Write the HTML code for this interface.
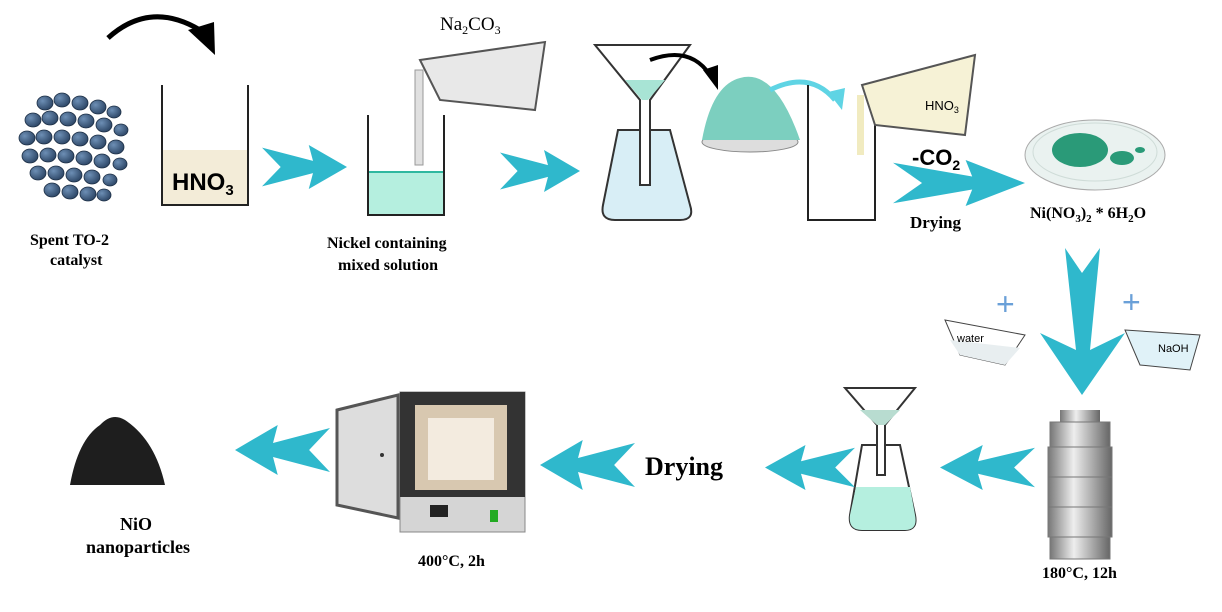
<!DOCTYPE html>
<html><head><meta charset="utf-8"><style>
html,body{margin:0;padding:0;background:#fff;}
svg{display:block;}
text{font-family:"Liberation Serif",serif;font-weight:bold;fill:#000;}
.s{font-family:"Liberation Sans",sans-serif;font-weight:normal;}
</style></head><body>
<svg width="1222" height="612" viewBox="0 0 1222 612" xmlns="http://www.w3.org/2000/svg">
<defs>
<symbol id="arr" viewBox="0 0 100 50" preserveAspectRatio="none">
<polygon points="0,3 60,18 55,0 100,25 55,50 60,32 0,47 22,25" fill="#2fb8cc"/>
</symbol>
<linearGradient id="steel" x1="0" x2="1"><stop offset="0" stop-color="#777"/><stop offset="0.4" stop-color="#eee"/><stop offset="1" stop-color="#666"/></linearGradient>
<radialGradient id="pel" cx="0.35" cy="0.35" r="0.7"><stop offset="0" stop-color="#6d8fb5"/><stop offset="1" stop-color="#2c4565"/></radialGradient>
</defs>

<!-- pellets -->
<g fill="url(#pel)" stroke="#1d2f45" stroke-width="0.8">
<ellipse cx="45" cy="103" rx="8" ry="7"/><ellipse cx="62" cy="100" rx="8" ry="7"/><ellipse cx="80" cy="103" rx="8" ry="7"/><ellipse cx="98" cy="107" rx="8" ry="7"/><ellipse cx="114" cy="112" rx="7" ry="6"/>
<ellipse cx="33" cy="120" rx="8" ry="7"/><ellipse cx="50" cy="118" rx="8" ry="7"/><ellipse cx="68" cy="119" rx="8" ry="7"/><ellipse cx="86" cy="121" rx="8" ry="7"/><ellipse cx="104" cy="125" rx="8" ry="7"/><ellipse cx="121" cy="130" rx="7" ry="6"/>
<ellipse cx="27" cy="138" rx="8" ry="7"/><ellipse cx="44" cy="137" rx="8" ry="7"/><ellipse cx="62" cy="137" rx="8" ry="7"/><ellipse cx="80" cy="139" rx="8" ry="7"/><ellipse cx="98" cy="142" rx="8" ry="7"/><ellipse cx="116" cy="147" rx="8" ry="7"/>
<ellipse cx="30" cy="156" rx="8" ry="7"/><ellipse cx="48" cy="155" rx="8" ry="7"/><ellipse cx="66" cy="156" rx="8" ry="7"/><ellipse cx="84" cy="158" rx="8" ry="7"/><ellipse cx="102" cy="161" rx="8" ry="7"/><ellipse cx="120" cy="164" rx="7" ry="6"/>
<ellipse cx="38" cy="173" rx="8" ry="7"/><ellipse cx="56" cy="173" rx="8" ry="7"/><ellipse cx="74" cy="175" rx="8" ry="7"/><ellipse cx="92" cy="177" rx="8" ry="7"/><ellipse cx="110" cy="180" rx="7" ry="6"/>
<ellipse cx="52" cy="190" rx="8" ry="7"/><ellipse cx="70" cy="192" rx="8" ry="7"/><ellipse cx="88" cy="194" rx="8" ry="7"/><ellipse cx="104" cy="195" rx="7" ry="6"/>
</g>
<!-- curved black arrow -->
<path d="M108,38 Q150,0 200,30" fill="none" stroke="#000" stroke-width="5"/>
<polygon points="188,30 215,55 214,22" fill="#000"/>

<!-- beaker HNO3 -->
<rect x="162" y="150" width="86" height="55" fill="#f3ecd8"/>
<path d="M162,85 V205 H248 V85" fill="none" stroke="#222" stroke-width="2"/>
<text x="172" y="190" class="s" font-size="24" style="font-weight:bold">HNO<tspan font-size="15" dy="5">3</tspan></text>
<text x="30" y="245" font-size="16">Spent TO-2</text>
<text x="50" y="265" font-size="16">catalyst</text>

<use href="#arr" x="262" y="145" width="85" height="44"/>

<!-- beaker 2 -->
<rect x="368" y="172" width="76" height="43" fill="#b5efdf"/>
<line x1="368" y1="172" x2="444" y2="172" stroke="#2fb8a0" stroke-width="2"/>
<path d="M368,115 V215 H444 V115" fill="none" stroke="#222" stroke-width="2"/>
<!-- pouring beaker -->
<path d="M420,60 L545,42 L535,110 L440,100 Z" fill="#e8e8e8" stroke="#555" stroke-width="2"/>
<rect x="415" y="70" width="8" height="95" fill="#e0e0e0" stroke="#999"/>
<text x="440" y="30" font-size="19" style="font-weight:normal">Na<tspan font-size="12" dy="4">2</tspan><tspan dy="-4">CO</tspan><tspan font-size="12" dy="4">3</tspan></text>
<text x="327" y="248" font-size="16">Nickel containing</text>
<text x="338" y="270" font-size="16">mixed solution</text>

<use href="#arr" x="500" y="150" width="80" height="42"/>

<!-- funnel flask -->
<path d="M618,130 L603,205 Q600,220 615,220 H680 Q695,220 690,205 L670,130 Z" fill="#d8eef6" stroke="#333" stroke-width="2"/>
<path d="M595,45 L690,45 L650,100 V185 H640 V100 Z" fill="#fff" stroke="#333" stroke-width="2"/>
<polygon points="625,80 665,80 648,100 642,100" fill="#a8e4d5"/>
<path d="M650,60 Q690,45 710,75" fill="none" stroke="#000" stroke-width="4"/>
<polygon points="703,70 718,90 718,65" fill="#000"/>
<!-- powder -->
<ellipse cx="750" cy="142" rx="48" ry="10" fill="#ddd" stroke="#888"/>
<path d="M702,140 Q712,85 740,78 Q775,68 800,140 Z" fill="#7ccfbf"/>
<path d="M770,90 Q810,70 835,100" fill="none" stroke="#5fd4e4" stroke-width="5"/>
<polygon points="828,92 842,110 845,88" fill="#5fd4e4"/>
<!-- beaker 3 -->
<path d="M808,85 V220 H875 V85" fill="none" stroke="#222" stroke-width="2"/>
<path d="M862,85 L975,55 L965,135 L875,125 Z" fill="#f6f2d6" stroke="#555" stroke-width="2"/>
<rect x="857" y="95" width="7" height="60" fill="#f1ebc0"/>
<text x="925" y="110" class="s" font-size="13">HNO<tspan font-size="9" dy="3">3</tspan></text>
<text x="912" y="165" font-size="22" class="s" style="font-weight:bold">-CO<tspan font-size="14" dy="5">2</tspan></text>
<use href="#arr" x="893" y="160" width="132" height="46"/>
<text x="910" y="228" font-size="17">Drying</text>
<!-- petri -->
<ellipse cx="1095" cy="155" rx="70" ry="35" fill="#eaf2f0" stroke="#aaa"/>
<ellipse cx="1095" cy="152" rx="62" ry="29" fill="none" stroke="#cfdcd8"/>
<ellipse cx="1080" cy="150" rx="28" ry="17" fill="#2a9a78"/>
<ellipse cx="1122" cy="158" rx="12" ry="7" fill="#2a9a78"/>
<ellipse cx="1140" cy="150" rx="5" ry="3" fill="#2a9a78"/>
<text x="1030" y="218" font-size="16">Ni(NO<tspan font-size="11" dy="4">3</tspan><tspan dy="-4">)</tspan><tspan font-size="11" dy="4">2</tspan><tspan dy="-4"> * 6H</tspan><tspan font-size="11" dy="4">2</tspan><tspan dy="-4">O</tspan></text>

<!-- down arrow -->
<polygon points="1065,248 1082,273 1100,248 1090,350 1125,333 1082,395 1040,333 1076,350" fill="#2fb8cc"/>
<!-- water/NaOH beakers -->
<path d="M945,320 L1025,335 L1005,365 L960,355 Z" fill="#fff" stroke="#444"/>
<path d="M950,340 L1020,348 L1005,365 L960,355 Z" fill="#e8eef0"/>
<text x="957" y="342" class="s" font-size="11">water</text>
<text x="996" y="315" class="s" font-size="32" style="fill:#6aa0d8">+</text>
<path d="M1125,330 L1200,335 L1190,370 L1140,365 Z" fill="#e0f2f8" stroke="#444"/>
<text x="1158" y="352" class="s" font-size="11">NaOH</text>
<text x="1122" y="313" class="s" font-size="32" style="fill:#6aa0d8">+</text>

<!-- autoclave -->
<rect x="1060" y="410" width="40" height="12" fill="url(#steel)"/>
<rect x="1050" y="422" width="60" height="25" fill="url(#steel)" stroke="#777"/>
<rect x="1048" y="447" width="64" height="30" fill="url(#steel)" stroke="#777"/>
<rect x="1048" y="477" width="64" height="30" fill="url(#steel)" stroke="#777"/>
<rect x="1048" y="507" width="64" height="30" fill="url(#steel)" stroke="#777"/>
<rect x="1050" y="537" width="60" height="22" fill="url(#steel)" stroke="#777"/>
<text x="1042" y="578" font-size="16">180°C, 12h</text>

<g transform="translate(1035,490) scale(-1,1)"><use href="#arr" x="0" y="-45" width="95" height="45"/></g>
<!-- flask 2 -->
<path d="M862,445 L850,515 Q848,530 862,530 H905 Q918,530 915,515 L900,445 Z" fill="#fff" stroke="#333" stroke-width="2"/>
<path d="M856,487 L910,487 L915,515 Q918,530 905,530 H862 Q848,530 850,515 Z" fill="#b5efdf"/>
<path d="M845,388 L915,388 L885,425 V475 H877 V425 Z" fill="#fff" stroke="#333" stroke-width="2"/>
<polygon points="860,410 900,410 885,425 877,425" fill="#b8dcd0"/>
<g transform="translate(855,490) scale(-1,1)"><use href="#arr" x="0" y="-45" width="90" height="45"/></g>
<text x="645" y="475" font-size="26">Drying</text>
<g transform="translate(635,490) scale(-1,1)"><use href="#arr" x="0" y="-50" width="95" height="50"/></g>
<!-- furnace -->
<rect x="400" y="392" width="125" height="140" fill="#d5d5d5" stroke="#888"/>
<rect x="400" y="392" width="125" height="105" fill="#333"/>
<rect x="415" y="405" width="92" height="85" fill="#d8c8b0"/>
<rect x="428" y="418" width="66" height="62" fill="#f3ebdf"/>
<rect x="430" y="505" width="18" height="12" fill="#222"/>
<rect x="490" y="510" width="8" height="12" fill="#2a2"/>
<path d="M337,410 L398,395 L398,518 L337,505 Z" fill="#ddd" stroke="#555" stroke-width="3"/>
<circle cx="382" cy="455" r="2" fill="#333"/>
<text x="418" y="566" font-size="16">400°C, 2h</text>
<g transform="translate(330,475) scale(-1,1)"><use href="#arr" x="0" y="-50" width="95" height="50"/></g>
<!-- NiO -->
<path d="M70,485 Q78,440 100,425 Q112,412 125,420 Q155,440 165,485 Z" fill="#1e1e1e"/>
<text x="120" y="530" font-size="18">NiO</text>
<text x="86" y="553" font-size="18">nanoparticles</text>
</svg>
</body></html>
